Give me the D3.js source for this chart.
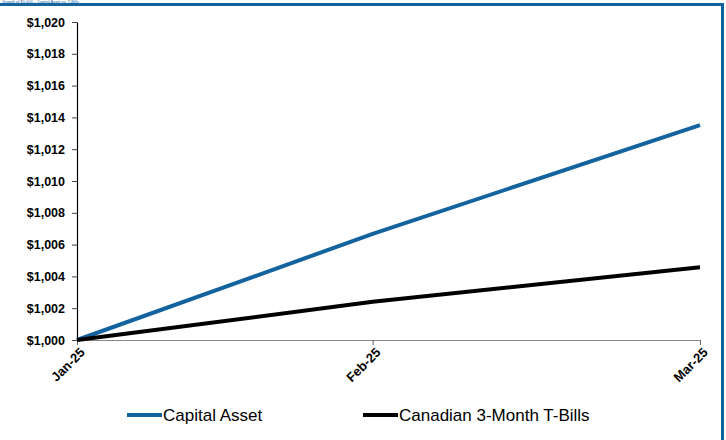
<!DOCTYPE html>
<html>
<head>
<meta charset="utf-8">
<script src="https://cdn.jsdelivr.net/npm/d3@7"></script>
<style>
  body { margin: 0; background: #fff; }
  svg { display: block; font-family: "Liberation Sans", Arial, sans-serif; }
</style>
</head>
<body>
<div class="canvas"></div>
<script>
// month-end dates, so the axis spacing follows the month lengths
const months = ['2025-01-31', '2025-02-28', '2025-03-31']
const monthLabels = ['Jan-25', 'Feb-25', 'Mar-25']
const capitalAsset = [1000, 1006.67, 1013.52]
const tBills = [1000, 1002.4, 1004.58]
const yTicks = [1000, 1002, 1004, 1006, 1008, 1010, 1012, 1014, 1016, 1018, 1020]

const series = [
    { name: 'Capital Asset', values: capitalAsset, color: '#13639e' },
    { name: 'Canadian 3-Month T-Bills', values: tBills, color: '#000' }
]

const dims = { width: 726, height: 440 }
const margin = { top: 22, left: 77, right: 26, bottom: 100 }
const parse = d3.utcParse('%Y-%m-%d')
const dates = months.map(parse)

const svg = d3.select('.canvas')
    .append('svg')
    .attr('width', dims.width)
    .attr('height', dims.height)

// frame from the page this chart sat in
svg.append('text')
    .attr('x', 2)
    .attr('y', 3)
    .attr('fill', '#13639e')
    .attr('font-size', 4)
    .text('Growth of $1,000 – Capital Asset vs. T-Bills')
svg.append('path')
    .attr('d', `M0,4.5H722.5V440`)
    .attr('fill', 'none')
    .attr('stroke', '#13639e')
    .attr('stroke-width', 3)

const x = d3.scaleUtc()
    .domain(d3.extent(dates))
    .range([margin.left, dims.width - margin.right])

const y = d3.scaleLinear()
    .domain([1000, 1020])
    .range([dims.height - margin.bottom, margin.top])

const fmt = d => '$' + d3.format(',')(d)

// y axis
const yAxis = svg.append('g')
    .attr('transform', `translate(${margin.left},0)`)
    .call(d3.axisLeft(y).tickValues(yTicks).tickFormat(fmt).tickSize(5).tickSizeOuter(0))
yAxis.select('.domain').attr('stroke', '#000').attr('stroke-width', 1.2)
yAxis.selectAll('.tick line').attr('stroke', '#444')
yAxis.selectAll('text')
    .attr('x', -12)
    .attr('font-size', 12.5)
    .attr('font-weight', 'bold')
    .attr('font-family', '"Liberation Sans", Arial, sans-serif')
    .attr('fill', '#000')

// x axis
const xAxis = svg.append('g')
    .attr('transform', `translate(0,${y(1000)})`)
    .call(d3.axisBottom(x).tickValues(dates).tickFormat((d, i) => monthLabels[i]).tickSize(5).tickSizeOuter(0))
xAxis.select('.domain').attr('stroke', '#888').attr('stroke-width', 1.2)
xAxis.selectAll('.tick line').attr('stroke', '#666')
xAxis.selectAll('text')
    .attr('font-size', 13)
    .attr('font-weight', 'bold')
    .attr('font-family', '"Liberation Sans", Arial, sans-serif')
    .attr('fill', '#000')
    .attr('text-anchor', 'end')
    .attr('dy', '0.35em')
    .attr('transform', 'translate(5,10) rotate(-45)')
    .attr('y', 0)
    .attr('x', 0)

// lines
const line = d3.line()
    .x((d, i) => x(dates[i]))
    .y(d => y(d))

svg.selectAll('path.series')
    .data(series)
    .enter()
    .append('path')
        .attr('class', 'series')
        .attr('d', d => line(d.values))
        .attr('fill', 'none')
        .attr('stroke', d => d.color)
        .attr('stroke-width', 4)

// legend
const legendX = [127, 363]
const legend = svg.selectAll('g.legend')
    .data(series)
    .enter()
    .append('g')
        .attr('class', 'legend')
        .attr('transform', (d, i) => `translate(${legendX[i]},415)`)
legend.append('line')
    .attr('x1', 0).attr('x2', 35)
    .attr('stroke', d => d.color)
    .attr('stroke-width', 4)
legend.append('text')
    .attr('x', 36)
    .attr('dy', '0.35em')
    .attr('font-size', 17)
    .text(d => d.name)
</script>
</body>
</html>
